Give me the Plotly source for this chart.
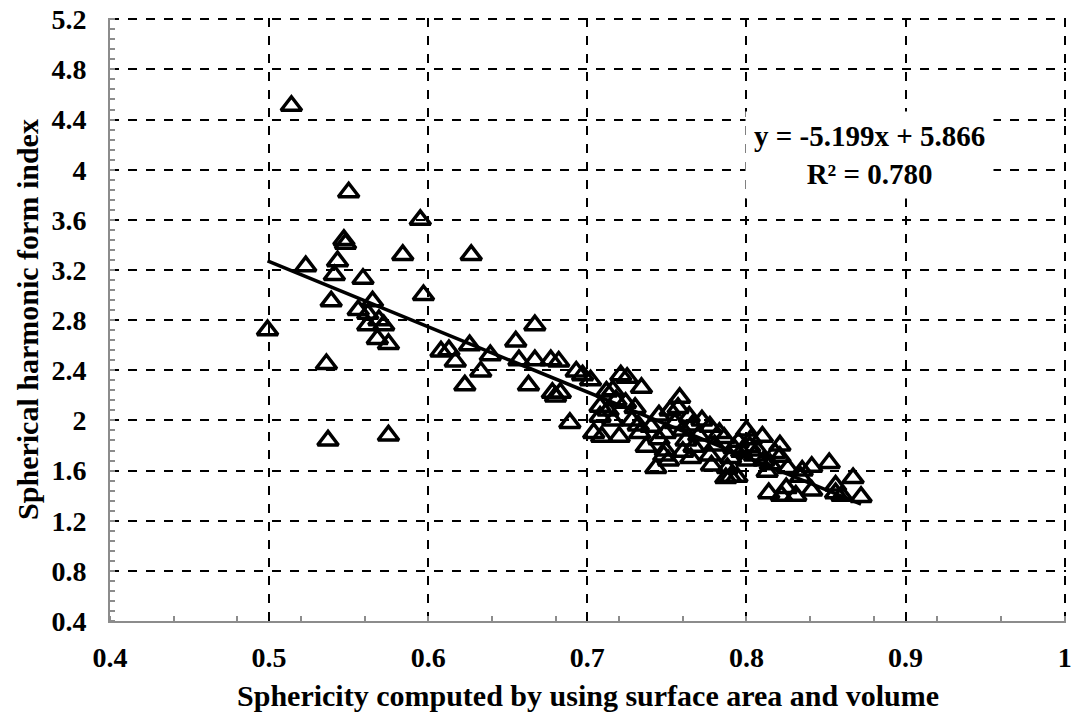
import plotly.graph_objects as go

sphericity = [
    0.499, 0.514, 0.523, 0.536, 0.537, 0.539, 0.541, 0.543, 0.547, 0.548,
    0.550, 0.556, 0.559, 0.562, 0.565, 0.562, 0.569, 0.572, 0.568, 0.575,
    0.575, 0.584, 0.595, 0.597, 0.608, 0.613, 0.617, 0.623, 0.626, 0.627,
    0.633, 0.639, 0.655, 0.657, 0.663, 0.667, 0.667, 0.677, 0.682, 0.678,
    0.683, 0.680, 0.689, 0.693, 0.697, 0.702, 0.708, 0.708, 0.704, 0.709,
    0.712, 0.716, 0.718, 0.716, 0.720, 0.721, 0.725, 0.724, 0.728, 0.733,
    0.734, 0.737, 0.743, 0.745, 0.749, 0.749, 0.751, 0.752, 0.758, 0.762,
    0.764, 0.766, 0.767, 0.777, 0.778, 0.783, 0.786, 0.787, 0.790, 0.794,
    0.795, 0.800, 0.802, 0.800, 0.807, 0.810, 0.811, 0.813, 0.814, 0.821,
    0.821, 0.822, 0.825, 0.831, 0.834, 0.835, 0.841, 0.841, 0.852, 0.856,
    0.856, 0.860, 0.867, 0.872,
    0.713, 0.730, 0.740, 0.755, 0.760, 0.770, 0.772, 0.780, 0.790, 0.797,
    0.805, 0.815, 0.818, 0.826, 0.760, 0.745, 0.732, 0.757, 0.748, 0.788,
    0.792, 0.803, 0.777, 0.765,
]
sh_index = [
    2.72, 4.51, 3.23, 2.45, 1.84, 2.95, 3.16, 3.27, 3.44, 3.41,
    3.82, 2.88, 3.13, 2.85, 2.95, 2.76, 2.80, 2.76, 2.65, 2.61,
    1.88, 3.32, 3.60, 3.00, 2.55, 2.56, 2.47, 2.28, 2.60, 3.32,
    2.39, 2.52, 2.63, 2.48, 2.28, 2.76, 2.48, 2.48, 2.47, 2.22,
    2.22, 2.19, 1.98, 2.39, 2.36, 2.32, 2.11, 2.03, 1.90, 1.87,
    2.23, 2.24, 2.16, 2.00, 1.87, 2.36, 2.34, 2.14, 2.00, 1.90,
    2.26, 1.79, 1.62, 2.04, 1.90, 1.76, 1.68, 2.08, 2.18, 1.84,
    2.03, 1.96, 1.79, 1.95, 1.64, 1.90, 1.86, 1.54, 1.55, 1.55,
    1.83, 1.92, 1.79, 1.68, 1.76, 1.87, 1.68, 1.59, 1.42, 1.80,
    1.71, 1.40, 1.46, 1.40, 1.55, 1.60, 1.44, 1.63, 1.66, 1.42,
    1.48, 1.40, 1.54, 1.39,
    2.08, 2.10, 1.95, 1.98, 1.92, 1.88, 2.00, 1.80, 1.70, 1.75,
    1.72, 1.65, 1.74, 1.62, 1.75, 1.85, 1.96, 2.10, 1.72, 1.62,
    1.78, 1.85, 1.72, 1.70,
]

slope = -5.199
intercept = 5.866
r_squared = 0.780

x_ticks = [0.4, 0.5, 0.6, 0.7, 0.8, 0.9, 1.0]
x_ticklabels = ["0.4", "0.5", "0.6", "0.7", "0.8", "0.9", "1"]
y_ticks = [0.4, 0.8, 1.2, 1.6, 2.0, 2.4, 2.8, 3.2, 3.6, 4.0, 4.4, 4.8, 5.2]
y_ticklabels = ["0.4", "0.8", "1.2", "1.6", "2", "2.4", "2.8", "3.2", "3.6", "4", "4.4", "4.8", "5.2"]

x_title = "Sphericity computed by using surface area and volume"
y_title = "Spherical harmonic form index"

FONT = "Liberation Serif"
TICK_SIZE = 28
TITLE_SIZE = 30

fig = go.Figure()
fig.add_trace(go.Scatter(
    x=sphericity, y=sh_index, mode="markers",
    marker=dict(symbol="triangle-up-open", size=18, color="black",
                line=dict(width=3.5, color="black")),
    showlegend=False,
))
xmin, xmax = min(sphericity), max(sphericity)
fig.add_trace(go.Scatter(
    x=[xmin, xmax], y=[slope * xmin + intercept, slope * xmax + intercept],
    mode="lines", line=dict(color="black", width=3.5), showlegend=False,
))

fig.add_annotation(
    x=0.877, y=4.12, xref="x", yref="y",
    text=f"<b>y = {slope:.3f}x + {intercept:.3f}<br>R² = {r_squared:.3f}</b>",
    showarrow=False, bgcolor="white", borderpad=8,
    font=dict(family=FONT, size=29, color="black"), align="center",
)

axis_common = dict(
    showgrid=True, gridcolor="black", gridwidth=2, griddash="dash",
    showline=True, linecolor="#8c8c8c", linewidth=2, mirror=False,
    zeroline=False, ticks="outside", tickcolor="rgba(0,0,0,0)",
    automargin=False,
    tickfont=dict(family=FONT, size=TICK_SIZE, color="black"),
)

fig.update_xaxes(
    range=[0.4, 1.0008], tickvals=x_ticks, ticktext=[f"<b>{t}</b>" for t in x_ticklabels],
    ticklen=10,
    minor=dict(dtick=0.04, tick0=0.4, ticks="inside", ticklen=5, tickcolor="#8c8c8c",
               tickwidth=1.5, showgrid=False),
    title=dict(text=f"<b>{x_title}</b>", font=dict(family=FONT, size=TITLE_SIZE, color="black"),
               standoff=13),
    **axis_common,
)
fig.update_yaxes(
    range=[0.4, 5.21], tickvals=y_ticks, ticktext=[f"<b>{t}</b>" for t in y_ticklabels],
    ticklen=16,
    minor=dict(dtick=0.08, tick0=0.4, ticks="inside", ticklen=5, tickcolor="#8c8c8c",
               tickwidth=1.5, showgrid=False),
    title=dict(text=f"<b>{y_title}</b>", font=dict(family=FONT, size=TITLE_SIZE, color="black"),
               standoff=4),
    **axis_common,
)

fig.update_layout(
    width=1075, height=717,
    margin=dict(l=110, r=9, t=18, b=96),
    plot_bgcolor="white", paper_bgcolor="white",
    font=dict(family=FONT, color="black"),
)

fig.write_html("out.html", config={"displayModeBar": False},
               post_script="document.body.style.margin='0';")
